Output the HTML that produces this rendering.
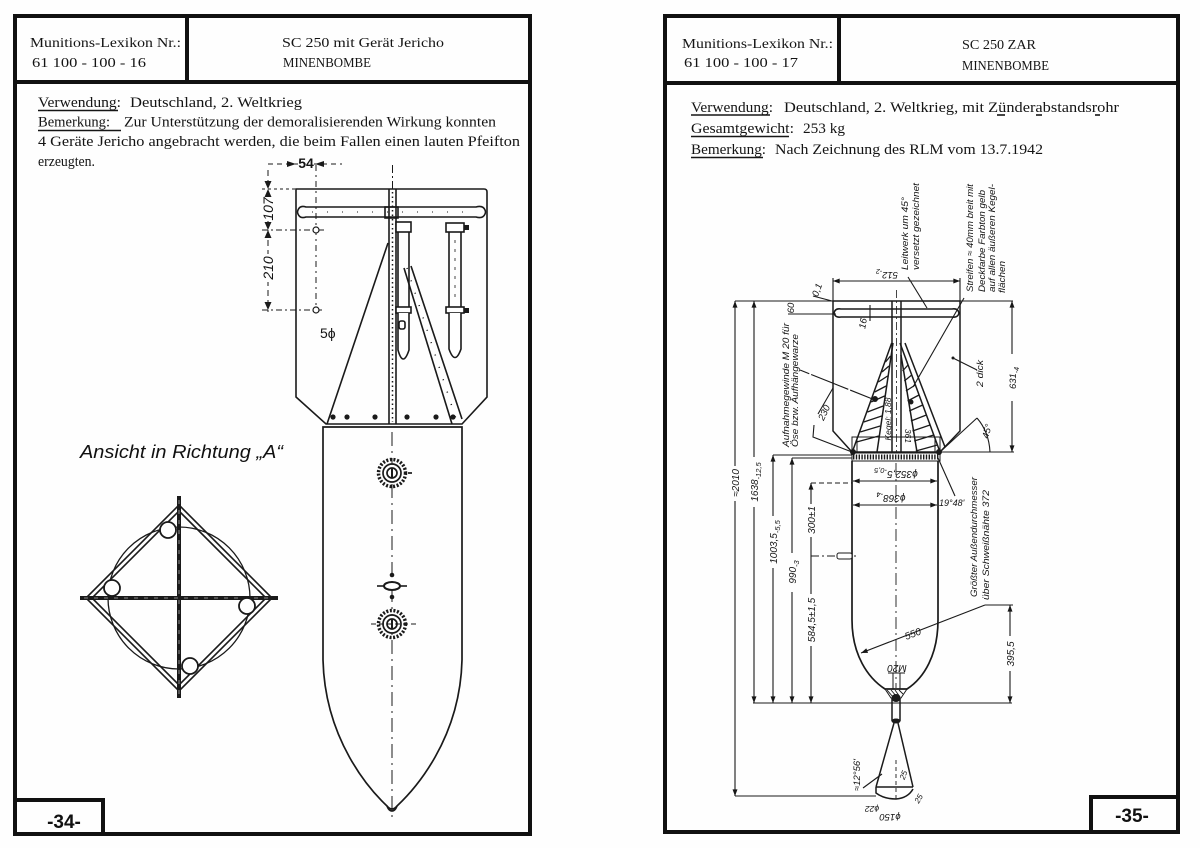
<!DOCTYPE html>
<html><head><meta charset="utf-8">
<style>
html,body{margin:0;padding:0;background:#fff;}
svg{display:block;}
.t{font-family:"Liberation Serif",serif;font-size:15px;fill:#141414;}
.h{font-family:"Liberation Serif",serif;font-size:14px;fill:#141414;}
.l{font-family:"Liberation Sans",sans-serif;font-style:italic;font-size:9.5px;fill:#141414;}
.m{font-family:"Liberation Sans",sans-serif;font-size:14px;fill:#141414;}
.n{font-family:"Liberation Sans",sans-serif;font-weight:bold;font-size:19px;fill:#111;}
.v{font-family:"Liberation Sans",sans-serif;font-style:italic;font-size:18px;fill:#111;}
</style></head><body>
<svg width="1200" height="848" viewBox="0 0 1200 848" xmlns="http://www.w3.org/2000/svg">
<defs>
<marker id="a" viewBox="0 0 8 6" refX="8" refY="3" markerWidth="7" markerHeight="5" markerUnits="userSpaceOnUse" orient="auto-start-reverse"><path d="M0,0L8,3L0,6z" fill="#161616"/></marker>
</defs>
<rect width="1200" height="848" fill="#fefefe"/>

<!-- FRAMES -->
<g fill="none" stroke="#111" stroke-width="4">
<rect x="15" y="16" width="515" height="818"/>
<line x1="15" y1="82" x2="530" y2="82"/>
<line x1="187" y1="16" x2="187" y2="82"/>
<rect x="15" y="800" width="88" height="34"/>
<rect x="665" y="16" width="513" height="816"/>
<line x1="665" y1="83" x2="1178" y2="83"/>
<line x1="839" y1="16" x2="839" y2="83"/>
<rect x="1091" y="797" width="87" height="35"/>
</g>
<text class="n" x="64" y="828" text-anchor="middle">-34-</text>
<text class="n" x="1132" y="822" text-anchor="middle">-35-</text>

<!-- LEFT HEADER / TEXT -->
<text class="h" x="30" y="47" textLength="151" lengthAdjust="spacingAndGlyphs">Munitions-Lexikon Nr.:</text>
<text class="h" x="32" y="67" textLength="114" lengthAdjust="spacingAndGlyphs">61 100 - 100 - 16</text>
<text class="h" x="282" y="47" textLength="162" lengthAdjust="spacingAndGlyphs">SC 250 mit Gerät Jericho</text>
<text class="h" x="283" y="67" textLength="88" lengthAdjust="spacingAndGlyphs">MINENBOMBE</text>

<text class="t" x="38" y="107" textLength="83" lengthAdjust="spacingAndGlyphs">Verwendung:</text>
<text class="t" x="130" y="107" textLength="172" lengthAdjust="spacingAndGlyphs">Deutschland, 2. Weltkrieg</text>
<text class="t" x="38" y="126.5" textLength="72" lengthAdjust="spacingAndGlyphs">Bemerkung:</text>
<text class="t" x="124" y="126.5" textLength="372" lengthAdjust="spacingAndGlyphs">Zur Unterstützung der demoralisierenden Wirkung konnten</text>
<text class="t" x="38" y="146" textLength="482" lengthAdjust="spacingAndGlyphs">4 Geräte Jericho angebracht werden, die beim Fallen einen lauten Pfeifton</text>
<text class="t" x="38" y="166" textLength="57" lengthAdjust="spacingAndGlyphs">erzeugten.</text>
<g stroke="#161616" stroke-width="1.6">
<line x1="38" y1="110.5" x2="118" y2="110.5"/>
<line x1="38" y1="130.5" x2="121" y2="130.5"/>
</g>

<!-- RIGHT HEADER / TEXT -->
<text class="h" x="682" y="48" textLength="151" lengthAdjust="spacingAndGlyphs">Munitions-Lexikon Nr.:</text>
<text class="h" x="684" y="67" textLength="114" lengthAdjust="spacingAndGlyphs">61 100 - 100 - 17</text>
<text class="h" x="962" y="49" textLength="74" lengthAdjust="spacingAndGlyphs">SC 250 ZAR</text>
<text class="h" x="962" y="70" textLength="87" lengthAdjust="spacingAndGlyphs">MINENBOMBE</text>

<text class="t" x="691" y="112" textLength="82" lengthAdjust="spacingAndGlyphs">Verwendung:</text>
<text class="t" x="784" y="112" textLength="335" lengthAdjust="spacingAndGlyphs">Deutschland, 2. Weltkrieg, mit Zünderabstandsrohr</text>
<text class="t" x="691" y="133" textLength="103" lengthAdjust="spacingAndGlyphs">Gesamtgewicht:</text>
<text class="t" x="803" y="133" textLength="42" lengthAdjust="spacingAndGlyphs">253 kg</text>
<text class="t" x="691" y="154" textLength="75" lengthAdjust="spacingAndGlyphs">Bemerkung:</text>
<text class="t" x="775" y="154" textLength="268" lengthAdjust="spacingAndGlyphs">Nach Zeichnung des RLM vom 13.7.1942</text>
<g stroke="#161616" stroke-width="1.6">
<line x1="691" y1="115" x2="770" y2="115"/>
<line x1="997" y1="115" x2="1005" y2="115"/>
<line x1="1036" y1="115" x2="1042" y2="115"/>
<line x1="1095" y1="115" x2="1100" y2="115"/>
<line x1="691" y1="136.5" x2="789" y2="136.5"/>
<line x1="691" y1="157.5" x2="763" y2="157.5"/>
</g>

<!-- LEFT DRAWING -->
<g stroke="#1a1a1a" fill="none" stroke-width="1.6">
<path d="M296,189 H484 Q487,189 487,192 V397 L462,424 H326 L296,397 Z"/>
<path d="M306,207 H476 Q483,205 485,210 Q486,212 485,214 Q483,219 476,217 H306 Q300,219 298,214 Q297,212 298,210 Q300,205 306,207 Z"/>
<line x1="312" y1="212" x2="470" y2="212" stroke-dasharray="1,14" stroke-width="1"/>
<rect x="385" y="207" width="13" height="11"/>
<line x1="389" y1="189" x2="389" y2="424"/>
<line x1="396" y1="189" x2="396" y2="424"/>
<line x1="392.5" y1="192" x2="392.5" y2="422" stroke-dasharray="1.5,3" stroke-width="1.5"/>
<line x1="392.5" y1="165" x2="392.5" y2="189" stroke-dasharray="8,3,2,3" stroke-width="1"/>
<line x1="388" y1="243" x2="327" y2="424"/>
<line x1="404" y1="268" x2="452" y2="424"/>
<line x1="411" y1="266" x2="462" y2="419"/>
<line x1="407" y1="268" x2="457" y2="422" stroke-dasharray="1,12" stroke-width="1.5"/>
<rect x="396" y="222" width="15" height="10" fill="#fff"/>
<path d="M398,232 V307 M409,232 V307" />
<rect x="396" y="307" width="15" height="6" fill="#fff"/>
<path d="M398,313 V350 Q403,368 409,350 V313" fill="#fff"/>
<rect x="399" y="321" width="6" height="8" rx="2"/>
<rect x="446" y="223" width="18" height="9" fill="#fff"/>
<path d="M449,232 V307 M461,232 V307"/>
<rect x="446" y="307" width="18" height="6" fill="#fff"/>
<path d="M449,313 V349 Q455,366 461,349 V313" fill="#fff"/>
<line x1="455" y1="240" x2="455" y2="300" stroke-dasharray="3,6" stroke-width="0.8"/>
<line x1="268" y1="164" x2="342" y2="164" stroke-dasharray="5,4" stroke-width="1"/>
<line x1="268" y1="170" x2="268" y2="312" stroke-dasharray="6,4" stroke-width="1"/>
<line x1="262" y1="189" x2="296" y2="189" stroke-dasharray="3,3" stroke-width="1"/>
<line x1="262" y1="230" x2="325" y2="230" stroke-dasharray="6,3,2,3" stroke-width="1"/>
<line x1="262" y1="310" x2="322" y2="310" stroke-dasharray="6,3,2,3" stroke-width="1"/>
<line x1="316" y1="165" x2="316" y2="305" stroke-dasharray="6,4,2,4" stroke-width="1"/>
<circle cx="316" cy="230" r="3" fill="#fff" stroke-width="1.2"/>
<circle cx="316" cy="310" r="3" fill="#fff" stroke-width="1.2"/>
</g>
<g fill="#1a1a1a">
<path d="M287,161 L296,164 L287,167 Z"/>
<path d="M324,161 L315,164 L324,167 Z"/>
<path d="M264.5,181 L271.5,181 L268,189 Z"/>
<path d="M264.5,197 L271.5,197 L268,189 Z"/>
<path d="M264.5,222 L271.5,222 L268,230 Z"/>
<path d="M264.5,238 L271.5,238 L268,230 Z"/>
<path d="M264.5,302 L271.5,302 L268,310 Z"/>
<circle cx="333" cy="417" r="2.6"/><circle cx="347" cy="417" r="2.6"/><circle cx="375" cy="417" r="2.6"/>
<circle cx="407" cy="417" r="2.6"/><circle cx="436" cy="417" r="2.6"/><circle cx="453" cy="417" r="2.6"/>
<rect x="464" y="225" width="5" height="5"/><rect x="464" y="308" width="5" height="5"/>
</g>
<rect x="298" y="155" width="16" height="15" fill="#fefefe"/>
<text class="m" x="306" y="168" text-anchor="middle" font-weight="bold" font-size="14">54</text>
<rect x="261" y="197" width="14" height="24" fill="#fefefe"/>
<rect x="261" y="254" width="14" height="28" fill="#fefefe"/>
<text class="m" font-style="italic" font-size="13" text-anchor="middle" transform="translate(273,209) rotate(-90)">107</text>
<text class="m" font-style="italic" font-size="13" text-anchor="middle" transform="translate(273,268) rotate(-90)">210</text>
<text class="m" x="320" y="338" font-size="14">5ϕ</text>

<!-- left body -->
<g stroke="#1a1a1a" fill="none" stroke-width="1.7">
<path d="M323,427 V660 C325,740 370,790 387,806 Q392,812 397,806 C414,790 460,740 462,660 V427 Z"/>
<path d="M387,806 Q389,811 392,811 Q395,811 397,806" />
<line x1="392" y1="432" x2="392" y2="822" stroke-dasharray="14,5,2,5" stroke-width="1"/>
<circle cx="392" cy="473" r="13.5" stroke-width="3.5" stroke-dasharray="2,1.6"/>
<circle cx="392" cy="473" r="9" fill="#fff"/>
<circle cx="392" cy="473" r="5"/>
<line x1="392" y1="468" x2="392" y2="478" stroke-width="2"/>
<line x1="408" y1="473" x2="412" y2="473"/>
<circle cx="392" cy="624" r="13.5" stroke-width="3.5" stroke-dasharray="2,1.6"/>
<circle cx="392" cy="624" r="9" fill="#fff"/>
<circle cx="392" cy="624" r="5"/>
<line x1="392" y1="619" x2="392" y2="629" stroke-width="2"/>
<line x1="371" y1="624" x2="416" y2="624" stroke-dasharray="5,3" stroke-width="1"/>
<ellipse cx="392" cy="586" rx="8" ry="4" fill="#fff" stroke-width="2"/>
<line x1="377" y1="586" x2="384" y2="586" stroke-width="1.6"/>
<line x1="400" y1="586" x2="407" y2="586" stroke-width="1.6"/>
</g>
<circle cx="392" cy="575" r="2.3" fill="#1a1a1a"/>
<circle cx="392" cy="597" r="2.3" fill="#1a1a1a"/>

<!-- view A -->
<text class="v" x="80" y="458" textLength="203" lengthAdjust="spacingAndGlyphs">Ansicht in Richtung &#8222;A&#8220;</text>
<g stroke="#1a1a1a" fill="none" stroke-width="1.6">
<circle cx="179" cy="598" r="71" stroke-width="1.3"/>
<polygon points="179,505 272,598 179,691 86,598"/>
<polygon points="179,511 266,598 179,685 92,598"/>
<line x1="80" y1="598" x2="278" y2="598" stroke-width="4"/>
<line x1="179" y1="496" x2="179" y2="698" stroke-width="4"/>
<line x1="84" y1="598" x2="274" y2="598" stroke="#aaa" stroke-width="0.8" stroke-dasharray="4,6"/>
<line x1="179" y1="500" x2="179" y2="694" stroke="#aaa" stroke-width="0.8" stroke-dasharray="4,6"/>
<circle cx="168" cy="530" r="8" fill="#fff" stroke-width="1.8"/>
<circle cx="112" cy="588" r="8" fill="#fff" stroke-width="1.8"/>
<circle cx="247" cy="606" r="8" fill="#fff" stroke-width="1.8"/>
<circle cx="190" cy="666" r="8" fill="#fff" stroke-width="1.8"/>
</g>

<!-- RIGHT DRAWING -->
<g stroke="#1a1a1a" fill="none" stroke-width="1.5">
<path d="M833,301 H960 V431 L940,452 H852 L833,431 Z"/>
<path d="M841,309 H952 Q958,308 959,313 Q958,318 952,317 H841 Q835,318 834,313 Q835,308 841,309 Z" stroke-width="1.6"/>
<line x1="892" y1="301" x2="892" y2="452"/>
<line x1="901" y1="301" x2="901" y2="452"/>
<line x1="896.5" y1="290" x2="896.5" y2="452" stroke-dasharray="8,3,2,3" stroke-width="0.8"/>
<line x1="891.7" y1="343" x2="853" y2="450"/>
<line x1="893" y1="343" x2="877" y2="452"/>
<line x1="900" y1="343" x2="940" y2="452"/>
<line x1="901" y1="355" x2="917" y2="452"/>
<line x1="905" y1="343" x2="945" y2="447"/>
<path d="M885.5,362 L890.5,356 M882,372 L889,366 M878.3,382 L887.6,376 M874.7,392 L886.1,386 M871.1,402 L884.6,396 M867.5,412 L883.2,406 M863.8,422 L881.7,416 M860.2,432 L880.2,426 M856.6,442 L878.8,436" stroke-width="1.3"/>
<path d="M908,365 L902.6,371 M911.7,375 L904.3,381 M915.3,385 L905.9,391 M919,395 L907.6,401 M922.7,405 L909.2,411 M926.4,415 L910.9,421 M930,425 L912.5,431 M933.7,435 L914.2,441 M937.4,445 L915.8,451" stroke-width="1.3"/>
<rect x="852" y="437" width="88" height="15" stroke-width="1"/>
<line x1="857" y1="437" x2="857" y2="452" stroke-width="1"/>
<line x1="935" y1="437" x2="935" y2="452" stroke-width="1"/>
<rect x="852" y="453" width="88" height="8" stroke-width="1"/>
<line x1="853" y1="457" x2="939" y2="457" stroke-width="5" stroke-dasharray="1.4,1.4"/>
<path d="M852,461 V620 C852,655 868,678 885,689 H907 C924,678 938,655 938,620 V461" stroke-width="1.7"/>
<line x1="896" y1="463" x2="896" y2="688" stroke-dasharray="12,4,2,4" stroke-width="0.9"/>
<path d="M885,689 H907 L901,698 H891 Z" stroke-width="1"/>
<path d="M887,690 L893,697 M891,690 L897,697 M895,690 L900,697 M899,690 L903,694" stroke-width="0.9"/>
<line x1="892" y1="698" x2="892" y2="721"/>
<line x1="900" y1="698" x2="900" y2="721"/>
<line x1="894" y1="723" x2="876" y2="787"/>
<line x1="898" y1="723" x2="913" y2="787"/>
<line x1="876" y1="787" x2="913" y2="787" stroke-width="1.6"/>
<path d="M876,787 V793 Q884,799 896,799 Q908,798 913,789"/>
<line x1="896" y1="760" x2="896" y2="802" stroke-dasharray="4,3" stroke-width="0.9"/>
<line x1="893" y1="673" x2="893" y2="689" stroke-width="1"/>
<line x1="900" y1="673" x2="900" y2="689" stroke-width="1"/>
<line x1="888" y1="673" x2="897" y2="673" stroke-width="1"/>
<line x1="897" y1="673" x2="905" y2="673" stroke-width="1"/>
</g>
<g fill="#1a1a1a">
<ellipse cx="896" cy="698" rx="4.5" ry="4"/>
<ellipse cx="896" cy="721" rx="4.5" ry="2.5"/>
<circle cx="853" cy="452" r="3"/>
<circle cx="939" cy="452" r="3"/>
<circle cx="875" cy="399" r="3"/>
<circle cx="911" cy="402" r="2.5"/>
</g>

<!-- right dims -->
<g stroke="#1a1a1a" fill="none" stroke-width="1.1">
<line x1="833" y1="281" x2="960" y2="281" marker-start="url(#a)" marker-end="url(#a)"/>
<line x1="833" y1="278" x2="833" y2="301"/>
<line x1="960" y1="278" x2="960" y2="301"/>
<line x1="735" y1="301" x2="1013" y2="301"/>
<line x1="788" y1="314" x2="836" y2="314"/>
<line x1="870" y1="305" x2="870" y2="321"/>
<line x1="1012" y1="301" x2="1012" y2="354" marker-start="url(#a)"/>
<line x1="1012" y1="401" x2="1012" y2="452" marker-end="url(#a)"/>
<line x1="940" y1="452" x2="1014" y2="452"/>
<line x1="940" y1="452" x2="977" y2="418"/>
<path d="M977,418 Q989,432 990,452"/>
<line x1="735" y1="301" x2="735" y2="466" marker-start="url(#a)"/>
<line x1="735" y1="501" x2="735" y2="796" marker-end="url(#a)"/>
<line x1="754" y1="301" x2="754" y2="457" marker-start="url(#a)"/>
<line x1="754" y1="507" x2="754" y2="703" marker-end="url(#a)"/>
<line x1="773" y1="455" x2="852" y2="455"/>
<line x1="792" y1="458" x2="852" y2="458"/>
<line x1="773" y1="455" x2="773" y2="516" marker-start="url(#a)"/>
<line x1="773" y1="568" x2="773" y2="703" marker-end="url(#a)"/>
<line x1="792" y1="458" x2="792" y2="553" marker-start="url(#a)"/>
<line x1="792" y1="592" x2="792" y2="703" marker-end="url(#a)"/>
<line x1="811" y1="483" x2="811" y2="504" marker-start="url(#a)"/>
<line x1="811" y1="537" x2="811" y2="594"/>
<line x1="811" y1="646" x2="811" y2="703" marker-end="url(#a)"/>
<line x1="811" y1="483" x2="852" y2="483" stroke-dasharray="5,3"/>
<line x1="811" y1="556" x2="858" y2="556" stroke-dasharray="8,3,2,3"/>
<line x1="753" y1="703" x2="1012" y2="703"/>
<line x1="735" y1="796" x2="876" y2="796"/>
<line x1="1010" y1="605" x2="1010" y2="636" marker-start="url(#a)"/>
<line x1="1010" y1="671" x2="1010" y2="703" marker-end="url(#a)"/>
<line x1="985" y1="605" x2="1013" y2="605"/>
<line x1="985" y1="605" x2="861" y2="653" marker-end="url(#a)"/>
<line x1="853" y1="481" x2="937" y2="481" marker-start="url(#a)" marker-end="url(#a)"/>
<line x1="853" y1="505" x2="937" y2="505" marker-start="url(#a)" marker-end="url(#a)"/>
<line x1="938" y1="458" x2="955" y2="496"/>
<line x1="908" y1="277" x2="927" y2="308"/>
<line x1="964" y1="298" x2="913" y2="387"/>
<line x1="953" y1="358" x2="977" y2="370"/>
<line x1="800" y1="370" x2="875" y2="400" stroke-dasharray="10,2,30,0"/>
<path d="M833,388 L818,414 M814,425 L813,437 L852,452"/>
<line x1="863" y1="788" x2="882" y2="774"/>
<line x1="813" y1="296" x2="832" y2="301"/>
</g>
<rect x="837" y="553" width="15" height="6" rx="2" fill="#fff" stroke="#1a1a1a" stroke-width="1"/>
<circle cx="953" cy="358" r="1.5" fill="#1a1a1a"/>

<!-- right labels -->
<g class="l">
<text text-anchor="middle" transform="translate(887,272) rotate(180)">512<tspan font-size="7" dy="3">-2</tspan></text>
<text text-anchor="middle" transform="translate(820,291) rotate(-70)">0,1</text>
<text text-anchor="middle" transform="translate(794,308) rotate(-90)">60</text>
<text text-anchor="middle" transform="translate(866,324) rotate(-80)">16</text>
<text text-anchor="middle" transform="translate(1016,378) rotate(-90)">631<tspan font-size="7" dy="3">-4</tspan></text>
<text text-anchor="middle" transform="translate(990,432) rotate(-75)">45°</text>
<text text-anchor="middle" transform="translate(827,414) rotate(-65)">230</text>
<text text-anchor="middle" transform="translate(891,419) rotate(-90)" font-size="8.5">Kegel: 1,88</text>
<text text-anchor="middle" transform="translate(905,436) rotate(90)" font-size="8.5">361</text>
<text text-anchor="start" transform="translate(789,447) rotate(-90)" textLength="124" lengthAdjust="spacingAndGlyphs">Aufnahmegewinde M 20 für</text>
<text text-anchor="start" transform="translate(798,447) rotate(-90)" textLength="113" lengthAdjust="spacingAndGlyphs">Öse bzw. Aufhängewarze</text>
<text text-anchor="start" transform="translate(908,270) rotate(-90)" textLength="73" lengthAdjust="spacingAndGlyphs">Leitwerk um 45°</text>
<text text-anchor="start" transform="translate(919,270) rotate(-90)" textLength="87" lengthAdjust="spacingAndGlyphs">versetzt gezeichnet</text>
<text text-anchor="start" transform="translate(973,292) rotate(-90)" textLength="108" lengthAdjust="spacingAndGlyphs">Streifen ≈ 40mm breit mit</text>
<text text-anchor="start" transform="translate(985,292) rotate(-90)" textLength="102" lengthAdjust="spacingAndGlyphs">Deckfarbe Farbton gelb</text>
<text text-anchor="start" transform="translate(995,292) rotate(-90)" textLength="108" lengthAdjust="spacingAndGlyphs">auf allen äußeren Kegel-</text>
<text text-anchor="start" transform="translate(1005,293) rotate(-90)" textLength="32" lengthAdjust="spacingAndGlyphs">flächen</text>
<text text-anchor="start" transform="translate(983,387) rotate(-90)" textLength="27" lengthAdjust="spacingAndGlyphs">2 dick</text>
<text text-anchor="middle" transform="translate(739,483) rotate(-90)" font-size="10">≈2010</text>
<text text-anchor="middle" transform="translate(758,482) rotate(-90)" font-size="10">1638<tspan font-size="7.5" dy="3">-12,5</tspan></text>
<text text-anchor="middle" transform="translate(777,542) rotate(-90)" font-size="10">1003,5<tspan font-size="7.5" dy="3">-5,5</tspan></text>
<text text-anchor="middle" transform="translate(796,572) rotate(-90)" font-size="10">990<tspan font-size="7.5" dy="3">-3</tspan></text>
<text text-anchor="middle" transform="translate(815,520) rotate(-90)" font-size="10">300±1</text>
<text text-anchor="middle" transform="translate(815,620) rotate(-90)" font-size="10">584,5±1,5</text>
<text text-anchor="middle" transform="translate(1014,654) rotate(-90)" font-size="10">395,5</text>
<text text-anchor="middle" transform="translate(914,637) rotate(-21)" font-size="10">550</text>
<text text-anchor="middle" transform="translate(896,471) rotate(180)" font-size="10">ϕ352,5<tspan font-size="7.5" dy="3">-0,5</tspan></text>
<text text-anchor="middle" transform="translate(891,495) rotate(180)" font-size="10">ϕ368<tspan font-size="7.5" dy="3">-4</tspan></text>
<text x="939" y="506" font-size="9">19°48'</text>
<text text-anchor="start" transform="translate(977,597) rotate(-90)" textLength="120" lengthAdjust="spacingAndGlyphs">Größter Außendurchmesser</text>
<text text-anchor="start" transform="translate(989,600) rotate(-90)" textLength="110" lengthAdjust="spacingAndGlyphs">über Schweißnähte 372</text>
<text text-anchor="middle" transform="translate(897,665) rotate(180)" font-size="10">M20</text>
<text text-anchor="middle" transform="translate(860,775) rotate(-90)">≈12°56'</text>
<text text-anchor="middle" transform="translate(906,776) rotate(-70)" font-size="8">25</text>
<text text-anchor="middle" transform="translate(921,800) rotate(-60)" font-size="8">25</text>
<text text-anchor="middle" transform="translate(890,814) rotate(180)">ϕ150</text>
<text text-anchor="middle" transform="translate(872,806) rotate(180)" font-size="8.5">ϕ22</text>
</g>
</svg>
</body></html>
